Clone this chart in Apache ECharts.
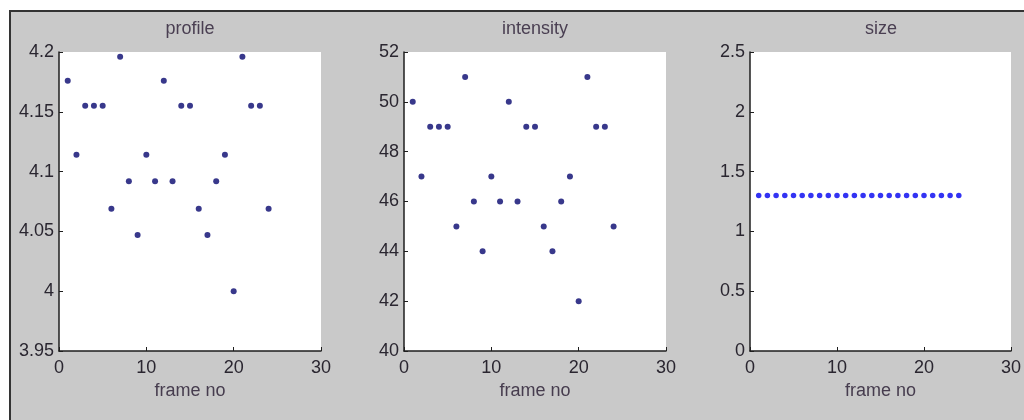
<!DOCTYPE html>
<html>
<head>
<meta charset="utf-8">
<script src="https://cdn.jsdelivr.net/npm/echarts@6/dist/echarts.min.js"></script>
<style>
  html, body { margin: 0; padding: 0; background: #ffffff; }
  #chart { width: 1024px; height: 420px; }
</style>
</head>
<body>
<div id="chart"></div>
<script>
// Frame numbers shared by all three panels
const frames = [1,2,3,4,5,6,7,8,9,10,11,12,13,14,15,16,17,18,19,20,21,22,23,24];

// Per-frame measurements
const profile = [4.176,4.114,4.155,4.155,4.155,4.069,4.196,4.092,4.047,4.114,4.092,4.176,
                 4.092,4.155,4.155,4.069,4.047,4.092,4.114,4.000,4.196,4.155,4.155,4.069];
const intensity = [50,47,49,49,49,45,51,46,44,47,46,50,46,49,49,45,44,46,47,42,51,49,49,45];
const size = [1.3,1.3,1.3,1.3,1.3,1.3,1.3,1.3,1.3,1.3,1.3,1.3,
              1.3,1.3,1.3,1.3,1.3,1.3,1.3,1.3,1.3,1.3,1.3,1.3];

// Panel titles and axis ranges
const titles = ['profile', 'intensity', 'size'];
const xTicks = [0, 10, 20, 30];
const profileTicks = [3.95, 4.0, 4.05, 4.1, 4.15, 4.2];
const intensityTicks = [40, 42, 44, 46, 48, 50, 52];
const sizeTicks = [0, 0.5, 1, 1.5, 2, 2.5];

const FONT = '"Liberation Sans", Arial, sans-serif';
const panelLeft = [59, 404, 750];
const panelW = 262, panelTop = 52, panelH = 299;

const seriesData = [profile, intensity, size];
const yTickSets = [profileTicks, intensityTicks, sizeTicks];
const markerColors = ['#06066e', '#06066e', '#0000f0'];
const markerSizes = [6, 6, 5.5];

function fmt(v) { return String(parseFloat(v.toFixed(3))); }

const grids = [], xAxes = [], yAxes = [], series = [], titleList = [];
for (let i = 0; i < 3; i++) {
  grids.push({
    left: panelLeft[i], top: panelTop, width: panelW, height: panelH,
    show: true, backgroundColor: '#ffffff', borderWidth: 0, containLabel: false
  });
  titleList.push({
    text: titles[i],
    left: panelLeft[i] + panelW / 2, top: 20, textAlign: 'center', padding: 0,
    textStyle: { fontFamily: FONT, fontSize: 18, fontWeight: 'normal', color: '#4a3f52' }
  });
  xAxes.push({
    gridIndex: i, type: 'value',
    min: xTicks[0], max: xTicks[xTicks.length - 1], interval: xTicks[1] - xTicks[0],
    name: 'frame no', nameLocation: 'middle', nameGap: 30,
    nameTextStyle: { fontFamily: FONT, fontSize: 18, color: '#463c4e' },
    axisLine: { show: true, lineStyle: { color: '#1e1e1e', width: 1.5 } },
    axisTick: { show: true, inside: true, length: 4, lineStyle: { color: '#1e1e1e' } },
    axisLabel: { fontFamily: FONT, fontSize: 18, color: '#2a2630', margin: 8 },
    splitLine: { show: false }
  });
  const yt = yTickSets[i];
  yAxes.push({
    gridIndex: i, type: 'value',
    min: yt[0], max: yt[yt.length - 1], interval: +(yt[1] - yt[0]).toFixed(3),
    axisLine: { show: true, lineStyle: { color: '#1e1e1e', width: 1.5 } },
    axisTick: { show: true, inside: true, length: 4, lineStyle: { color: '#1e1e1e' } },
    axisLabel: { fontFamily: FONT, fontSize: 18, color: '#2a2630', margin: 5, formatter: fmt },
    splitLine: { show: false }
  });
  series.push({
    type: 'scatter', xAxisIndex: i, yAxisIndex: i,
    symbol: 'circle', symbolSize: markerSizes[i],
    itemStyle: { color: markerColors[i] },
    data: frames.map((f, k) => [f, seriesData[i][k]]),
    silent: true
  });
}

const chart = echarts.init(document.getElementById('chart'), null, { renderer: 'canvas' });
chart.setOption({
  animation: false,
  backgroundColor: '#ffffff',
  graphic: [{
    type: 'rect', z: -10, silent: true,
    shape: { x: 10, y: 11, width: 1100, height: 500 },
    style: { fill: '#c9c9c9', stroke: '#333333', lineWidth: 2 }
  }],
  title: titleList,
  grid: grids,
  xAxis: xAxes,
  yAxis: yAxes,
  series: series
});
</script>
</body>
</html>
